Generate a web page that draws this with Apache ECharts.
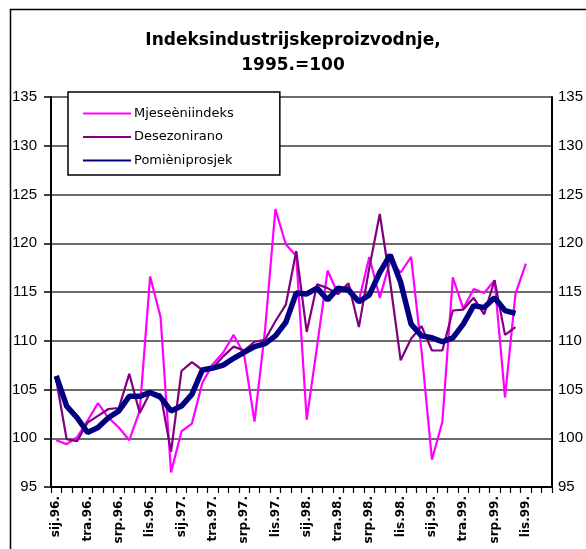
<!DOCTYPE html>
<html>
<head>
<meta charset="utf-8">
<script src="https://cdn.jsdelivr.net/npm/echarts@6/dist/echarts.min.js"></script>
<style>
html,body{margin:0;padding:0;background:#fff;}
#chart{width:586px;height:549px;}
</style>
</head>
<body>
<div id="chart"></div>
<script>
// Month categories Jan 1996 - Dec 1999 (Croatian abbreviations)
var monthNames = ["sij","velj","ožu","tra","svi","lip","srp","kol","ruj","lis","stu","pro"];
var years = ["96","97","98","99"];
var categories = [];
years.forEach(function(y){ monthNames.forEach(function(m){ categories.push(m + "." + y + "."); }); });

var seriesNames = ["Mjeseèniindeks", "Desezonirano", "Pomièniprosjek"];
var titleText = "Indeksindustrijskeproizvodnje,\n1995.=100";

// Monthly index
var mjesecni = [
  99.8, 99.4, 100.1, 101.8, 103.6, 102.1, 101.1, 99.8, 102.8, 116.6, 112.4, 96.5,
  100.7, 101.5, 105.7, 107.6, 108.8, 110.6, 108.6, 101.7, 111.0, 123.5, 119.9, 118.7,
  101.9, 109.5, 117.2, 114.8, 115.6, 114.1, 118.6, 114.4, 118.2, 117.0, 118.6, 109.0,
  97.8, 101.7, 116.5, 113.3, 115.3, 114.9, 116.2, 104.2, 114.8, 117.9, null, null
];
// Seasonally adjusted
var desezonirano = [
  106.0, 99.9, 99.7, 101.6, 102.3, 103.0, 103.1, 106.6, 102.6, 104.7, 104.5, 98.6,
  106.9, 107.8, 107.0, 107.2, 108.4, 109.4, 109.0, 109.9, 110.1, 112.0, 113.7, 119.2,
  110.9, 115.8, 115.4, 114.8, 115.9, 111.4, 117.5, 123.0, 116.0, 108.0, 110.2, 111.5,
  109.0, 109.0, 113.1, 113.2, 114.4, 112.7, 116.2, 110.6, 111.4, null, null, null
];
// Moving average
var pomicni = [
  106.4, 103.3, 102.1, 100.6, 101.1, 102.1, 102.8, 104.3, 104.3, 104.7, 104.2, 102.8,
  103.3, 104.5, 107.0, 107.2, 107.5, 108.2, 108.8, 109.4, 109.7, 110.5, 111.9, 114.9,
  114.8, 115.4, 114.2, 115.4, 115.2, 114.0, 114.7, 117.0, 118.8, 116.0, 111.7, 110.5,
  110.3, 109.9, 110.3, 111.7, 113.6, 113.4, 114.4, 113.1, 112.8, null, null, null
];
var yMin = 95, yMax = 135, yStep = 5;

var chart = echarts.init(document.getElementById('chart'), null, {renderer: 'canvas'});
var yAxisCommon = {
  type: 'value', min: yMin, max: yMax, interval: yStep,
  axisLine: {show: true, lineStyle: {color: '#000', width: 2}},
  axisTick: {show: true, length: 7, lineStyle: {color: '#000', width: 1.5}},
  axisLabel: {color: '#000', fontFamily: 'Liberation Sans, Arial, sans-serif', fontSize: 15}
};
chart.setOption({
  animation: false,
  backgroundColor: '#fff',
  title: {
    text: titleText,
    left: 'center',
    top: 23,
    textStyle: {fontFamily: 'DejaVu Sans', fontWeight: 'bold', fontSize: 17, lineHeight: 25, color: '#000'}
  },
  graphic: [{
    type: 'rect', left: 8, top: 7, z: 100,
    shape: {width: 620, height: 620},
    style: {fill: null, stroke: '#000', lineWidth: 1.5}
  }],
  legend: {
    orient: 'vertical', left: 68, top: 92,
    padding: [15, 46, 8, 14],
    itemWidth: 48, itemHeight: 14, itemGap: 10.5,
    backgroundColor: '#fff', borderColor: '#000', borderWidth: 1.5,
    itemStyle: {color: 'rgba(0,0,0,0)', borderColor: 'rgba(0,0,0,0)', borderWidth: 0},
    textStyle: {fontFamily: 'DejaVu Sans', fontSize: 13, color: '#000', padding: [0,0,0,-2]},
    data: seriesNames
  },
  grid: {left: 51, right: 31, top: 97, bottom: 62, containLabel: false},
  xAxis: {
    type: 'category', data: categories, boundaryGap: true,
    axisLine: {show: true, lineStyle: {color: '#000', width: 2}},
    axisTick: {show: true, interval: 0, length: 6, lineStyle: {color: '#000', width: 1.2}},
    axisLabel: {interval: 2, rotate: 90, margin: 9, color: '#000', fontFamily: 'DejaVu Sans', fontWeight: 'bold', fontSize: 12}
  },
  yAxis: [
    Object.assign({}, yAxisCommon, {
      position: 'left',
      axisLabel: Object.assign({}, yAxisCommon.axisLabel, {margin: 14}),
      splitLine: {show: true, lineStyle: {color: '#3a3a3a', width: 1.6}}
    }),
    Object.assign({}, yAxisCommon, {
      position: 'right',
      axisTick: {show: false},
      axisLabel: Object.assign({}, yAxisCommon.axisLabel, {margin: 6}),
      splitLine: {show: false}
    })
  ],
  series: [
    {name: seriesNames[0], type: 'line', data: mjesecni, symbol: 'none', z: 2,
     lineStyle: {color: '#FF00FF', width: 2.2}, itemStyle: {color: '#FF00FF'}},
    {name: seriesNames[1], type: 'line', data: desezonirano, symbol: 'none', z: 3,
     lineStyle: {color: '#800080', width: 2.2}, itemStyle: {color: '#800080'}},
    {name: seriesNames[2], type: 'line', data: pomicni, symbol: 'none', z: 4,
     lineStyle: {color: '#000080', width: 5.5}, itemStyle: {color: '#000080'}}
  ]
});
</script>
</body>
</html>
